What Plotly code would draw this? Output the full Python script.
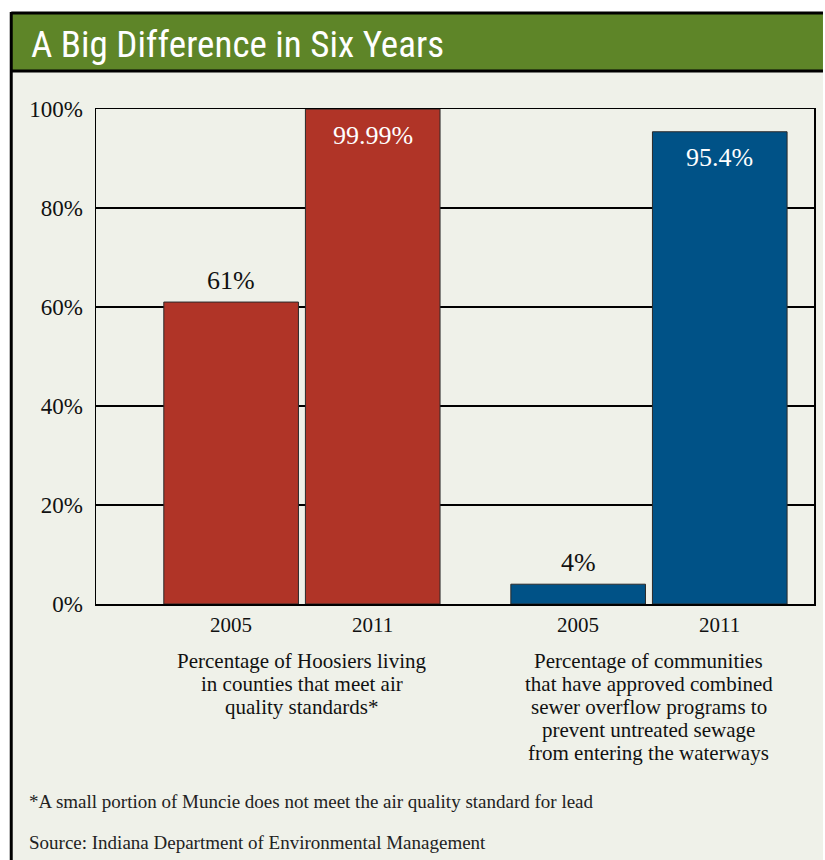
import plotly.graph_objects as go

# ---- data ----
group_lines = [
    ["Percentage of Hoosiers living", "in counties that meet air", "quality standards*"],
    ["Percentage of communities", "that have approved combined", "sewer overflow programs to",
     "prevent untreated sewage", "from entering the waterways"],
]
years = ["2005", "2011"]
air_values = [61, 99.99]
sewer_values = [4, 95.4]
group_colors = ["#B03427", "#005287"]
label_inside = [False, True]  # 2011 labels sit inside the bar
title_text = "A Big Difference in Six Years"
footnote_text = "*A small portion of Muncie does not meet the air quality standard for lead"
source_text = "Source: Indiana Department of Environmental Management"
y_ticks = [0, 20, 40, 60, 80, 100]
y_tick_text = [f"{v}%" for v in y_ticks]

# ---- layout geometry (pixels) ----
W, H = 825, 860
L, R, T, B = 96, 816, 109, 604
pw, ph = R - L, B - T

def px_x(x):
    return (x - L) / pw

def px_y(y):
    return (B - y) / ph

BG = "#EFF1E9"
GREEN = "#5E8528"
SERIF = "Liberation Serif, DejaVu Serif, serif"

group_gap = 206 / 142  # distance between groups in bar units
series = [air_values, sewer_values]

fig = go.Figure()
annotations = []
for gi, vals in enumerate(series):
    base = gi * (1 + group_gap)
    xs = [base + i for i in range(len(years))]
    fig.add_trace(go.Bar(
        x=xs, y=vals, width=135 / 142,
        marker=dict(color=group_colors[gi], line=dict(color="#2a2a2a", width=1)),
        showlegend=False, hoverinfo="skip",
    ))
    for i, (x, v) in enumerate(zip(xs, vals)):
        inside = label_inside[i]
        annotations.append(dict(
            x=x, y=v, xref="x", yref="y", text=f"{v:g}%", showarrow=False,
            yanchor="middle", yshift=-26 if inside else 22,
            font=dict(family=SERIF, size=26, color="white" if inside else "#111"),
        ))
        annotations.append(dict(
            x=x, y=0, xref="x", yref="y", text=years[i], showarrow=False,
            yanchor="middle", yshift=-21,
            font=dict(family=SERIF, size=21, color="#111"),
        ))
    for li, line in enumerate(group_lines[gi]):
        annotations.append(dict(
            x=(xs[0] + xs[-1]) / 2, y=px_y(661 + 23 * li), xref="x", yref="paper",
            text=line, showarrow=False, yanchor="middle", align="center",
            font=dict(family=SERIF, size=21, color="#111"),
        ))

annotations += [
    dict(x=px_x(29), y=px_y(44), xref="paper", yref="paper", text=title_text,
         showarrow=False, xanchor="left", yanchor="middle",
         font=dict(family="Roboto Condensed, Liberation Sans Narrow, Liberation Sans, sans-serif",
                   size=37, color="white")),
    dict(x=px_x(27), y=px_y(801), xref="paper", yref="paper", text=footnote_text,
         showarrow=False, xanchor="left", yanchor="middle",
         font=dict(family=SERIF, size=19, color="#222")),
    dict(x=px_x(27), y=px_y(842), xref="paper", yref="paper", text=source_text,
         showarrow=False, xanchor="left", yanchor="middle",
         font=dict(family=SERIF, size=19, color="#222")),
]

line_style = dict(color="black", width=3)
shapes = [
    dict(type="rect", xref="paper", yref="paper", x0=px_x(11), x1=px_x(825),
         y0=px_y(12), y1=px_y(860), fillcolor=BG, line=dict(width=0), layer="below"),
    dict(type="rect", xref="paper", yref="paper", x0=px_x(11), x1=px_x(825),
         y0=px_y(12), y1=px_y(72), fillcolor=GREEN, line=dict(width=0), layer="below"),
    dict(type="line", xref="paper", yref="paper", x0=px_x(11), x1=px_x(11),
         y0=px_y(12), y1=px_y(860), line=line_style, layer="below"),
    dict(type="line", xref="paper", yref="paper", x0=px_x(11), x1=px_x(825),
         y0=px_y(13), y1=px_y(13), line=line_style, layer="below"),
    dict(type="line", xref="paper", yref="paper", x0=px_x(11), x1=px_x(825),
         y0=px_y(71), y1=px_y(71), line=line_style, layer="below"),
]

first_center = 231.5
x_lo = (L - first_center) / 142
x_hi = (R - first_center) / 142
fig.update_layout(
    width=W, height=H,
    margin=dict(l=L, r=W - R, t=T, b=H - B),
    paper_bgcolor="white", plot_bgcolor="rgba(0,0,0,0)",
    xaxis=dict(range=[x_lo, x_hi], showticklabels=False, showgrid=False, zeroline=False,
               showline=True, mirror=True, linecolor="black", linewidth=1.5, fixedrange=True),
    yaxis=dict(range=[0, 100], tickmode="array", tickvals=y_ticks, ticktext=y_tick_text,
               showgrid=True, gridcolor="black", gridwidth=1.5, zeroline=False, showline=True,
               mirror=True, linecolor="black", linewidth=1.5, ticks="", ticklabelstandoff=7,
               tickfont=dict(family=SERIF, size=23, color="#111"), fixedrange=True),
    bargap=0,
    shapes=shapes,
    annotations=annotations,
)

fig.write_html(
    "out.html",
    config={"displayModeBar": False, "staticPlot": True},
    post_script=(
        "document.documentElement.style.overflow='hidden';"
        "document.body.style.margin='0';document.body.style.overflow='hidden';"
        "document.body.style.background='" + BG + "';"
    ),
)
